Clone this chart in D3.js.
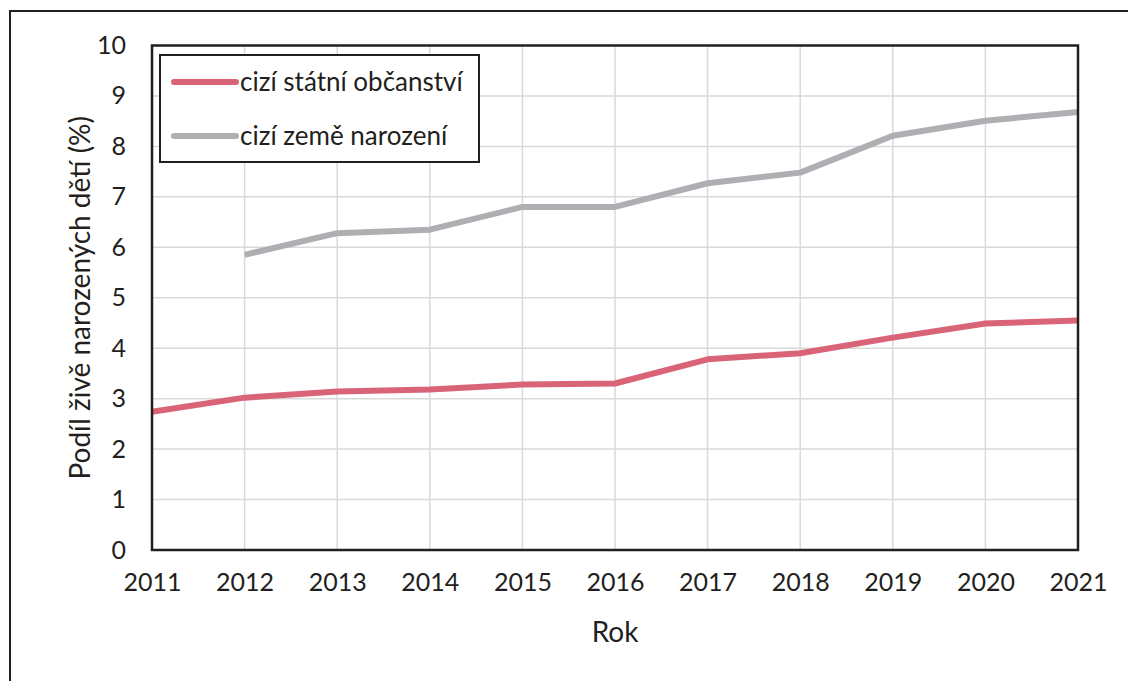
<!DOCTYPE html>
<html><head><meta charset="utf-8">
<script src="https://cdn.jsdelivr.net/npm/d3@7"></script>
<style>body{margin:0;background:#fff;} svg{display:block;} text{font-family:Lato,"Open Sans",sans-serif;fill:#231f20;}</style>
</head><body>
<svg id="c" width="1128" height="681"></svg>
<script>
const years = [2011,2012,2013,2014,2015,2016,2017,2018,2019,2020,2021];
const citizenship = [2.74,3.02,3.14,3.18,3.28,3.30,3.78,3.90,4.21,4.49,4.55];
const birthCountry = [null,5.85,6.28,6.35,6.80,6.80,7.27,7.48,8.21,8.51,8.68];
const yTicks = [0,1,2,3,4,5,6,7,8,9,10];
const seriesNames = ["cizí státní občanství","cizí země narození"];
const colors = ["#d96478","#afafb3"];
const xTitle = "Rok";
const yTitle = "Podíl živě narozených dětí (%)";

const svg = d3.select("#c");
// outer frame
svg.append("rect").attr("x",10).attr("y",11).attr("width",1140).attr("height",700)
  .attr("fill","none").attr("stroke","#231f20").attr("stroke-width",2);

const L=152,R=1078,T=45.5,B=550;
const x = d3.scaleLinear().domain([2011,2021]).range([L,R]);
const y = d3.scaleLinear().domain([0,10]).range([B,T]);

const g = svg.append("g");
// grid
g.selectAll(".hg").data(yTicks).join("line")
  .attr("x1",L).attr("x2",R).attr("y1",d=>y(d)).attr("y2",d=>y(d))
  .attr("stroke","#d9d9d9").attr("stroke-width",1.5);
g.selectAll(".vg").data(years).join("line")
  .attr("x1",d=>x(d)).attr("x2",d=>x(d)).attr("y1",T).attr("y2",B)
  .attr("stroke","#d9d9d9").attr("stroke-width",1.5);

// axes labels
const yAxis = d3.axisLeft(y).tickValues(yTicks).tickSize(0).tickPadding(26);
const ya = svg.append("g").attr("transform",`translate(${L},0)`).call(yAxis);
ya.select(".domain").remove();
ya.selectAll("text").style("font-size","25px").style("font-family","Lato").attr("fill","#231f20");
const xAxis = d3.axisBottom(x).tickValues(years).tickFormat(d3.format("d")).tickSize(0).tickPadding(23);
const xa = svg.append("g").attr("transform",`translate(0,${B})`).call(xAxis);
xa.select(".domain").remove();
xa.selectAll("text").style("font-size","25px").style("font-family","Lato").attr("fill","#231f20");

// lines
const line = d3.line().defined(d=>d[1]!=null).x(d=>x(d[0])).y(d=>y(d[1]));
[citizenship,birthCountry].forEach((s,i)=>{
  svg.append("path").datum(years.map((yr,j)=>[yr,s[j]]))
    .attr("d",line).attr("fill","none").attr("stroke",colors[i])
    .attr("stroke-width",6).attr("stroke-linejoin","round").attr("stroke-linecap","butt");
});

// plot border
svg.append("rect").attr("x",L).attr("y",T).attr("width",R-L).attr("height",B-T)
  .attr("fill","none").attr("stroke","#231f20").attr("stroke-width",2.5);

// legend
const lg = svg.append("g");
lg.append("rect").attr("x",160).attr("y",55).attr("width",319).attr("height",107)
  .attr("fill","#fff").attr("stroke","#231f20").attr("stroke-width",2);
seriesNames.forEach((n,i)=>{
  const cy = 82 + i*54;
  lg.append("line").attr("x1",174).attr("x2",236).attr("y1",cy).attr("y2",cy)
    .attr("stroke",colors[i]).attr("stroke-width",6).attr("stroke-linecap","round");
  lg.append("text").attr("x",240).attr("y",cy).attr("dy","0.35em")
    .style("font-size","26px").text(n);
});

// titles
svg.append("text").attr("x",(L+R)/2).attr("y",632).attr("dy","0.35em").attr("text-anchor","middle")
  .style("font-size","28px").text(xTitle);
svg.append("text").attr("transform",`translate(80,${(T+B)/2}) rotate(-90)`).attr("dy","0.35em")
  .attr("text-anchor","middle").style("font-size","28px").text(yTitle);
</script>
</body></html>
